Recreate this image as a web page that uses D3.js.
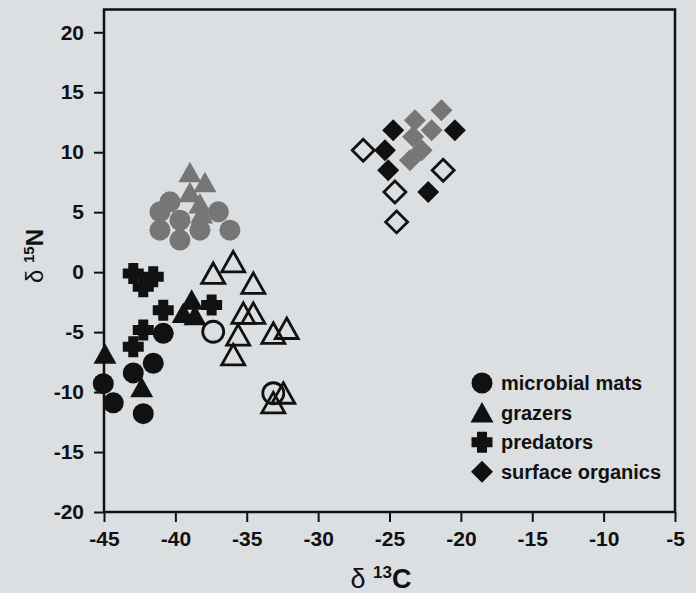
<!DOCTYPE html>
<html>
<head>
<meta charset="utf-8">
<script src="https://cdn.jsdelivr.net/npm/d3@7"></script>
<style>
    body { margin: 0; background: #dcdfe2; }
    text { font-family: Arial, "Liberation Sans", sans-serif; font-weight: bold; fill: #111; }
</style>
</head>
<body>
<svg id="chart" width="696" height="593"></svg>
<script>
// --- Data (δ13C, δ15N) ---
const matsSolid = [[-40.85, -5.1], [-41.55, -7.6], [-42.95, -8.4], [-45.05, -9.3], [-44.35, -10.9], [-42.25, -11.8]];
const matsGray = [[-40.38, 5.86], [-41.08, 5.03], [-39.68, 4.33], [-36.99, 5.03], [-41.08, 3.5], [-38.28, 3.5], [-36.18, 3.5], [-39.68, 2.67]];
const matsOpen = [[-37.35, -4.97], [-33.14, -10.1]];

const grazersSolid = [[-44.93, -6.8], [-42.36, -9.6], [-38.86, -2.3], [-39.45, -3.4], [-38.63, -3.6]];
const grazersGray = [[-38.98, 8.33], [-37.93, 7.5], [-38.98, 6.67], [-38.28, 5.72], [-38.16, 4.89]];
const grazersOpen = [[-37.35, -0.11], [-35.95, 0.86], [-34.54, -0.94], [-35.24, -3.44], [-34.54, -3.44],
    [-35.6, -5.25], [-35.95, -6.9], [-33.14, -5.1], [-32.2, -4.7], [-33.14, -10.9], [-32.44, -10.1]];

const predatorsSolid = [[-42.95, -0.11], [-41.55, -0.39], [-42.25, -1.22], [-40.85, -3.17], [-37.46, -2.75],
    [-42.25, -4.83], [-42.95, -6.22]];

const organicsSolid = [[-24.74, 11.83], [-20.42, 11.83], [-25.32, 10.17], [-25.09, 8.5], [-22.29, 6.69]];
const organicsGray = [[-21.36, 13.5], [-23.22, 12.67], [-22.05, 11.83], [-23.34, 11.28], [-22.75, 10.17], [-23.57, 9.33]];
const organicsOpen = [[-26.84, 10.17], [-21.24, 8.5], [-24.62, 6.69], [-24.5, 4.19]];

const xTicks = [-45, -40, -35, -30, -25, -20, -15, -10, -5];
const yTicks = [-20, -15, -10, -5, 0, 5, 10, 15, 20];
const legendLabels = ['microbial mats', 'grazers', 'predators', 'surface organics'];

// --- Setup ---
const svg = d3.select('#chart');
const x = d3.scaleLinear().domain([-45, -5]).range([104, 675]);
const y = d3.scaleLinear().domain([-20, 21.9]).range([512, 9.5]);

// custom marker shapes
const shapes = {
    circle: { draw(ctx) { ctx.moveTo(10.5, 0); ctx.arc(0, 0, 10.5, 0, 2 * Math.PI); } },
    triangle: { draw(ctx) { ctx.moveTo(0, -10.5); ctx.lineTo(11.5, 10); ctx.lineTo(-11.5, 10); ctx.closePath(); } },
    cross: { draw(ctx) {
        const a = 5, b = 10.5;
        ctx.moveTo(-a, -b); ctx.lineTo(a, -b); ctx.lineTo(a, -a); ctx.lineTo(b, -a); ctx.lineTo(b, a);
        ctx.lineTo(a, a); ctx.lineTo(a, b); ctx.lineTo(-a, b); ctx.lineTo(-a, a); ctx.lineTo(-b, a);
        ctx.lineTo(-b, -a); ctx.lineTo(-a, -a); ctx.closePath();
    } },
    diamond: { draw(ctx) { ctx.moveTo(0, -11); ctx.lineTo(11, 0); ctx.lineTo(0, 11); ctx.lineTo(-11, 0); ctx.closePath(); } }
};

const styles = {
    solid: { fill: '#111', stroke: 'none', sw: 0 },
    gray: { fill: '#767676', stroke: 'none', sw: 0 },
    open: { fill: 'none', stroke: '#111', sw: 2.8 }
};

// --- Axes ---
const plain = d => String(d); // hyphen minus like the original
const yAxis = svg.append('g')
    .attr('transform', `translate(${x(-45)},0)`)
    .call(d3.axisLeft(y).tickValues(yTicks).tickFormat(plain).tickSize(10).tickPadding(10));
const xAxis = svg.append('g')
    .attr('transform', `translate(0,${y(-20)})`)
    .call(d3.axisBottom(x).tickValues(xTicks).tickFormat(plain).tickSize(10).tickPadding(9));

[yAxis, xAxis].forEach(ax => {
    ax.select('.domain').remove();
    ax.selectAll('line').attr('stroke', '#111').attr('stroke-width', 2);
    ax.selectAll('text').style('font-size', '21px').attr('fill', '#111');
});

// frame
svg.append('rect')
    .attr('x', x(-45)).attr('y', y(21.9))
    .attr('width', x(-5) - x(-45)).attr('height', y(-20) - y(21.9))
    .attr('fill', 'none').attr('stroke', '#111').attr('stroke-width', 2.5);

// --- Points ---
const pointGroup = svg.append('g');
function drawPoints(data, shape, style) {
    const st = styles[style];
    pointGroup.selectAll(null)
        .data(data)
        .join('path')
        .attr('d', d3.symbol().type(shapes[shape]))
        .attr('transform', d => `translate(${x(d[0])},${y(d[1])})`)
        .attr('fill', st.fill)
        .attr('stroke', st.stroke)
        .attr('stroke-width', st.sw);
}

drawPoints(matsGray, 'circle', 'gray');
drawPoints(grazersGray, 'triangle', 'gray');
drawPoints(organicsGray, 'diamond', 'gray');
drawPoints(organicsSolid, 'diamond', 'solid');
drawPoints(organicsOpen, 'diamond', 'open');
drawPoints(grazersOpen, 'triangle', 'open');
drawPoints(matsOpen, 'circle', 'open');
drawPoints(predatorsSolid, 'cross', 'solid');
drawPoints(grazersSolid, 'triangle', 'solid');
drawPoints(matsSolid, 'circle', 'solid');

// --- Legend ---
const legendShapes = ['circle', 'triangle', 'cross', 'diamond'];
const legend = svg.append('g').attr('transform', 'translate(482,383)');
legendLabels.forEach((label, i) => {
    const row = legend.append('g').attr('transform', `translate(0,${i * 29.6})`);
    row.append('path').attr('d', d3.symbol().type(shapes[legendShapes[i]])).attr('fill', '#111');
    row.append('text').attr('x', 19).attr('dy', '0.36em').style('font-size', '20px').text(label);
});

// --- Axis titles ---
svg.append('text')
    .attr('x', 381).attr('y', 588)
    .attr('text-anchor', 'middle')
    .style('font-size', '27px')
    .html('<tspan style="font-weight:normal">δ</tspan> <tspan dy="-10" style="font-size:17px">13</tspan><tspan dy="10">C</tspan>');

svg.append('text')
    .attr('transform', 'translate(43,256) rotate(-90)')
    .attr('text-anchor', 'middle')
    .style('font-size', '24px')
    .html('<tspan style="font-weight:normal">δ</tspan> <tspan dy="-9" style="font-size:15px">15</tspan><tspan dy="9">N</tspan>');
</script>
</body>
</html>
